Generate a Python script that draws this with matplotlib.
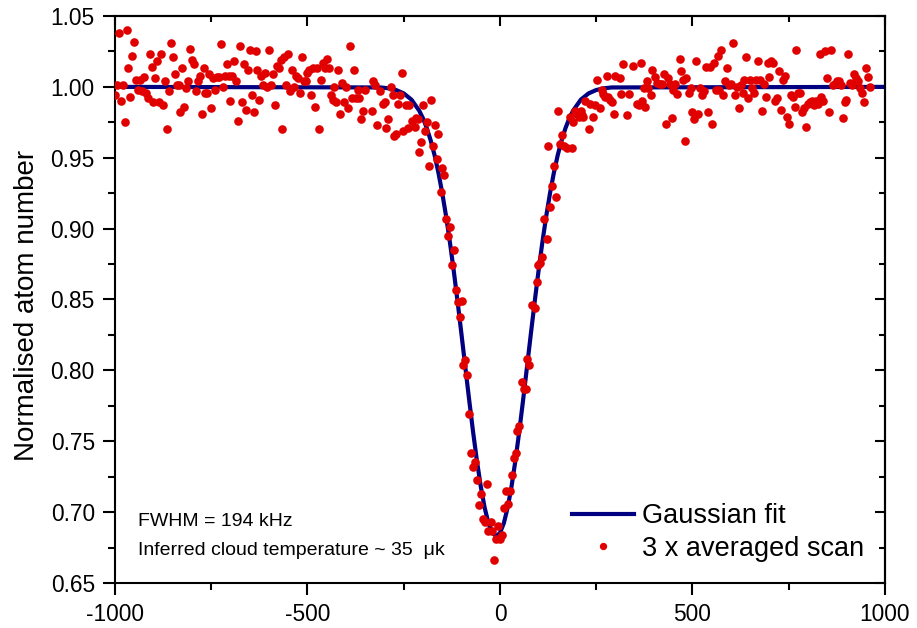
import numpy as np
import matplotlib.pyplot as plt
from matplotlib.ticker import MultipleLocator, FormatStrFormatter

plt.rcParams['font.family'] = ['Liberation Sans', 'DejaVu Sans']
plt.rcParams['axes.unicode_minus'] = False

# Gaussian fit (kHz, normalised atom number)
fit_x = [-1000, -310, -290, -270, -250, -230, -210,
         -200, -190, -180, -170, -160, -150, -140, -130, -120, -110,
         -100, -90, -80, -70, -60, -50, -40, -30, -20, -10,
         0, 10, 20, 30, 40, 50, 60, 70, 80, 90,
         100, 110, 120, 130, 140, 150, 160, 170, 180, 190,
         210, 230, 250, 270, 290, 1000]
fit_y = [1.0, 0.9996, 0.9990, 0.9978, 0.9954, 0.9910, 0.9833,
         0.9778, 0.9708, 0.9622, 0.9519, 0.9395, 0.9251, 0.9087, 0.8902, 0.8700, 0.8482,
         0.8254, 0.8021, 0.7790, 0.7568, 0.7363, 0.7182, 0.7033, 0.6922, 0.6853, 0.6830,
         0.6853, 0.6922, 0.7033, 0.7182, 0.7363, 0.7568, 0.7790, 0.8021, 0.8254, 0.8482,
         0.8700, 0.8902, 0.9087, 0.9251, 0.9395, 0.9519, 0.9622, 0.9708, 0.9778, 0.9833,
         0.9910, 0.9954, 0.9978, 0.9990, 0.9996, 1.0]

# scan, left flat part (from -1000 kHz, 5 kHz steps)
left_y = [0.994, 1.001, 1.038, 0.990, 1.001, 0.975, 1.040, 1.013, 0.993, 1.022,
          1.032, 1.005, 0.998, 1.005, 0.997, 1.007, 0.996, 0.992, 1.023, 1.014,
          0.989, 1.006, 1.018, 0.989, 1.023, 0.987, 1.004, 0.970, 0.997, 1.031,
          1.021, 1.009, 1.001, 1.001, 0.982, 1.013, 0.986, 0.999, 1.004, 1.027,
          1.019, 1.016, 0.997, 1.004, 1.008, 0.981, 1.013, 0.996, 0.996, 1.009,
          0.985, 1.006, 0.998, 1.007, 1.007, 1.030, 1.000, 1.008, 1.016, 1.008,
          0.990, 1.008, 1.018, 1.004, 0.976, 1.029, 0.989, 1.016, 0.984, 1.012,
          1.026, 0.994, 0.982, 1.025, 1.012, 0.991, 1.008, 1.001, 1.010, 1.000,
          1.026, 1.001, 1.009, 0.987, 1.015, 1.013, 1.019, 0.970, 1.021, 1.001,
          1.023, 0.997, 1.012, 1.000, 1.008, 1.006, 0.996, 1.021, 1.004,
          1.004, 1.010, 1.012, 0.994, 1.013, 0.986, 1.013, 0.970, 1.005, 1.017,
          1.013, 1.020, 1.013, 0.994, 0.991, 1.000, 0.989, 1.012, 0.981, 1.003,
          0.989, 1.000, 0.985, 1.029, 0.992, 1.012, 0.992, 0.998, 0.992,
          0.977, 0.983, 0.998]

# scan, shoulders and dip (read point by point)
mid_x = [-333, -330, -324, -320, -311, -303, -298, -296, -290, -283,
         -278, -275, -270, -264, -259, -255, -251, -244, -240, -236,
         -229, -220, -217, -212, -210, -205, -200, -195, -190, -185,
         -179, -175, -170, -164, -160, -154, -151, -145,
         -140, -135, -130, -125, -120, -114, -108, -105, -99, -95,
         -91, -85, -80, -75, -69, -65, -60, -54, -49, -45,
         -39, -35, -30, -24, -20, -15, -10, -4, 0, 5,
         11, 15, 22, 26, 30, 36, 41, 45, 50, 56,
         62, 67, 71, 76, 82, 91, 95, 99, 104, 110,
         115, 122, 125, 131, 136, 141, 145,
         151, 156, 162, 165, 175, 182, 186, 190, 195, 200,
         205, 210, 213, 215, 220, 231, 233, 242, 246, 251,
         259, 264, 268, 272, 277, 280, 285, 290, 297, 300,
         311, 314, 320,
         330, 336, 346, 355, 360, 366, 370, 374, 376, 381,
         385, 392, 396, 402, 409, 415, 422, 426, 431, 437,
         441, 446, 450, 454, 461, 467, 471, 476, 480, 484]
mid_y = [0.983, 1.004, 1.001, 0.973, 0.997, 0.988, 0.989, 0.971, 0.977, 1.000,
         0.994, 0.965, 0.967, 0.988, 0.994, 1.010, 0.969, 0.987, 0.971, 0.987,
         0.976, 0.972, 0.978, 0.977, 0.954, 0.961, 0.987, 0.969, 0.975, 0.944,
         0.991, 0.958, 0.973, 0.949, 0.967, 0.926, 0.943, 0.938,
         0.907, 0.895, 0.901, 0.874, 0.885, 0.857, 0.848, 0.838, 0.849, 0.804,
         0.807, 0.797, 0.769, 0.742, 0.732, 0.735, 0.723, 0.705, 0.713, 0.695,
         0.693, 0.720, 0.687, 0.693, 0.687, 0.666, 0.681, 0.690, 0.681, 0.684,
         0.703, 0.715, 0.706, 0.715, 0.726, 0.738, 0.742, 0.757, 0.761, 0.792,
         0.787, 0.787, 0.808, 0.804, 0.846, 0.844, 0.862, 0.874, 0.876, 0.880,
         0.907, 0.893, 0.958, 0.915, 0.930, 0.944, 0.922,
         0.983, 0.960, 0.966, 0.958, 0.957, 0.979, 0.957, 0.975, 0.983, 0.981,
         0.979, 0.983, 0.980, 0.979, 0.990, 0.970, 0.988, 0.979, 0.987, 1.005,
         0.985, 0.998, 0.995, 0.993, 1.008, 0.993, 0.991, 0.989, 0.981, 1.008,
         1.006, 0.995, 1.016,
         0.980, 0.995, 1.015, 0.988, 0.987, 1.017, 0.990, 0.999, 0.986, 1.004,
         0.999, 0.994, 1.012, 1.007, 1.003, 1.002, 1.002, 1.009, 0.974, 1.006,
         1.002, 0.978, 0.998, 1.002, 0.995, 1.020, 1.011, 1.005, 0.962, 1.006]

# scan, right flat part (from 490 kHz, 5 kHz steps)
right_y = [0.9955, 0.9995, 0.982, 0.977, 1.018, 0.981, 0.9995, 0.994, 0.997, 1.014,
           0.9825, 1.014, 0.974, 1.017, 0.998, 1.022, 0.998, 1.026, 0.994, 1.004,
           1.013, 1.001, 1.002, 1.031, 0.994, 1.000, 0.985, 1.001, 0.9955, 1.005,
           1.021, 0.992, 1.005, 0.9995, 0.996, 1.005, 1.018, 1.005, 0.983, 1.002,
           0.993, 1.017, 1.007, 1.018, 1.017, 0.990, 0.992, 1.011, 0.984, 1.005,
           1.008, 0.979, 0.974, 0.994, 0.993, 0.986, 1.026, 0.996, 0.996, 0.982,
           0.985, 0.972, 0.988, 0.989, 0.990, 0.987, 0.990, 0.988, 1.023, 0.993,
           0.990, 1.025, 1.006, 0.9825, 1.026, 1.001, 1.002, 1.004, 1.004, 1.001,
           0.978, 0.989, 0.991, 1.023, 1.003, 1.001, 1.009, 1.006, 1.004, 0.9995,
           0.9955, 0.989, 1.013, 1.007, 1.000]

left_x = -1000 + 5 * np.arange(len(left_y))
right_x = 490 + 5 * np.arange(len(right_y))
scan_x = np.concatenate([left_x, mid_x, right_x])
scan_y = np.concatenate([left_y, mid_y, right_y])

fig = plt.figure(figsize=(9.17, 6.28), dpi=100)
ax = fig.add_axes([0.1254, 0.0717, 0.8397, 0.9028])

ax.plot(fit_x, fit_y, color='#000080', lw=3, label='Gaussian fit', zorder=2)
ax.plot(scan_x, scan_y, 'o', color='#e00000', ms=6.2, mec='none',
        label='3 x averaged scan', zorder=3)

ax.set_xlim(-1000, 1000)
ax.set_ylim(0.65, 1.05)
ax.xaxis.set_major_locator(MultipleLocator(500))
ax.xaxis.set_minor_locator(MultipleLocator(250))
ax.yaxis.set_major_locator(MultipleLocator(0.05))
ax.yaxis.set_minor_locator(MultipleLocator(0.025))
ax.yaxis.set_major_formatter(FormatStrFormatter('%.2f'))

for s in ax.spines.values():
    s.set_linewidth(1.5)
ax.tick_params(which='both', direction='out', width=1.5, labelsize=16.4, pad=6)
ax.tick_params(which='major', length=8.5)
ax.tick_params(which='minor', length=5)

# top and right ticks point inwards
top = ax.secondary_xaxis('top')
top.xaxis.set_major_locator(MultipleLocator(500))
top.xaxis.set_minor_locator(MultipleLocator(250))
top.tick_params(which='both', direction='in', width=1.5, labeltop=False)
top.tick_params(which='major', length=7.5)
top.tick_params(which='minor', length=4)
right = ax.secondary_yaxis('right')
right.yaxis.set_major_locator(MultipleLocator(0.05))
right.yaxis.set_minor_locator(MultipleLocator(0.025))
right.tick_params(which='both', direction='in', width=1.5, labelright=False)
right.tick_params(which='major', length=7)
right.tick_params(which='minor', length=4.5)
for sec in (top, right):
    for s in sec.spines.values():
        s.set_linewidth(1.5)

ax.set_ylabel('Normalised atom number', fontsize=20)
ax.yaxis.set_label_coords(-0.098, 0.49)

ax.text(0.030, 0.1076, 'FWHM = 194 kHz', transform=ax.transAxes,
        fontsize=14, va='center', ha='left')
ax.text(0.030, 0.058, 'Inferred cloud temperature ~ 35  \u03bck', transform=ax.transAxes,
        fontsize=14, va='center', ha='left')

leg = ax.legend(loc='upper left', bbox_to_anchor=(0.5935, 0.141), frameon=False,
                fontsize=19.5, handlelength=2.3, handletextpad=0.3, labelspacing=0.25,
                borderpad=0, borderaxespad=0, markerscale=0.85)

fig.savefig('out.png', dpi=100)
